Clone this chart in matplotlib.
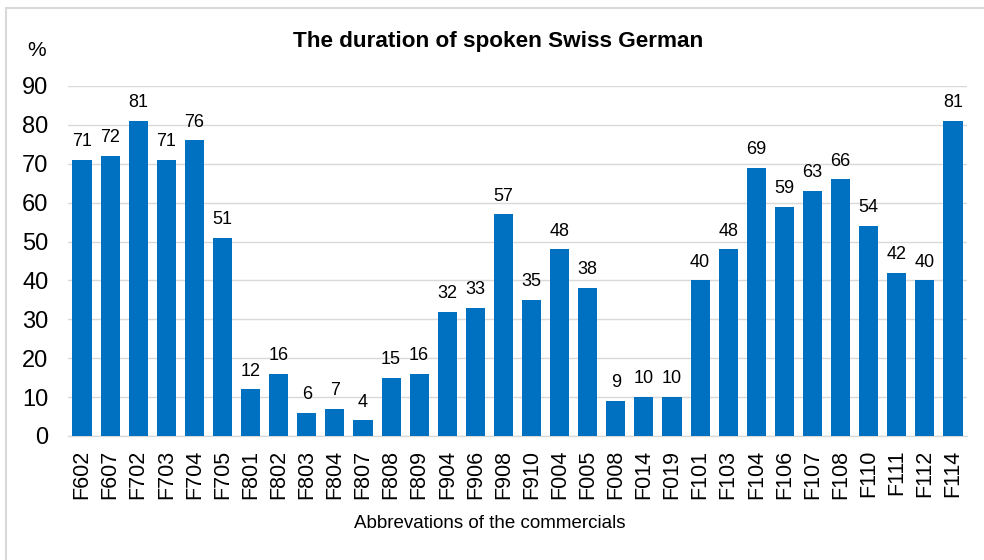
import matplotlib
matplotlib.use("Agg")
import matplotlib.pyplot as plt
from matplotlib.patches import Rectangle

plt.rcParams['font.family'] = ['Liberation Sans', 'DejaVu Sans']

commercials = ["F602", "F607", "F702", "F703", "F704", "F705", "F801", "F802",
               "F803", "F804", "F807", "F808", "F809", "F904", "F906", "F908",
               "F910", "F004", "F005", "F008", "F014", "F019", "F101", "F103",
               "F104", "F106", "F107", "F108", "F110", "F111", "F112", "F114"]
swiss_german_pct = [71, 72, 81, 71, 76, 51, 12, 16, 6, 7, 4, 15, 16, 32, 33, 57,
                    35, 48, 38, 9, 10, 10, 40, 48, 69, 59, 63, 66, 54, 42, 40, 81]
y_ticks = [0, 10, 20, 30, 40, 50, 60, 70, 80, 90]

W, H = 984, 560
fig = plt.figure(figsize=(W / 100, H / 100), dpi=100)

# outer chart frame (runs past the right and bottom edges)
fig.patches.append(Rectangle((6 / W, -0.1), 1.2, 1.1 - 8 / H, transform=fig.transFigure,
                             fill=False, edgecolor="#d9d9d9", linewidth=1.5))

ax = fig.add_axes([68 / W, 1 - 436 / H, (967 - 68) / W, (436 - 86) / H])
x = range(len(commercials))
ax.bar(x, swiss_german_pct, width=0.68, color="#0070c0", zorder=3)

for xi, v in zip(x, swiss_german_pct):
    ax.annotate(str(v), (xi, v), xytext=(0, 7), textcoords="offset points",
                ha="center", va="bottom", fontsize=13, color="#000000")

ax.set_xlim(-0.5, len(commercials) - 0.5)
ax.set_ylim(0, 90)
ax.set_yticks(y_ticks)
ax.set_yticklabels([str(t) for t in y_ticks], fontsize=17)
ax.set_xticks(list(x))
ax.set_xticklabels(commercials, rotation=90, fontsize=15.5)
ax.tick_params(axis="both", length=0)
ax.tick_params(axis="y", pad=14)
ax.tick_params(axis="x", pad=10)
ax.grid(axis="y", color="#d9d9d9", linewidth=1, zorder=0)
for side in ("left", "right", "top"):
    ax.spines[side].set_visible(False)
ax.spines["bottom"].set_color("#d9d9d9")
ax.spines["bottom"].set_linewidth(1)

fig.text(498 / W, 1 - 42 / H, "The duration of spoken Swiss German",
         ha="center", va="center", fontsize=16.2, fontweight="bold")
fig.text(37 / W, 1 - 50 / H, "%", ha="center", va="center", fontsize=15)
fig.text(490 / W, 1 - 523 / H, "Abbrevations of the commercials",
         ha="center", va="center", fontsize=13.5)

fig.savefig("out.png", dpi=100)
